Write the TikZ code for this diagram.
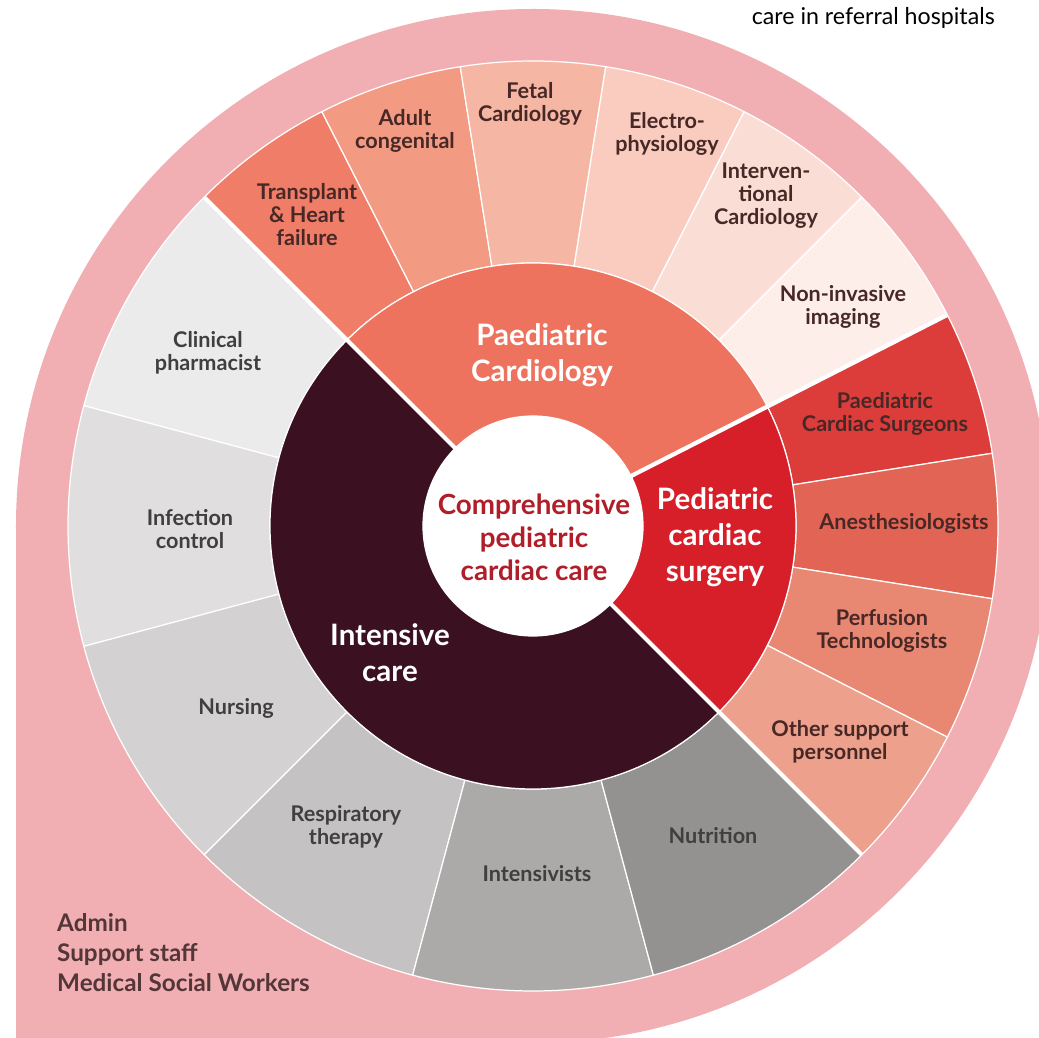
\documentclass[tikz,border=0pt]{standalone}
\usepackage{fontspec}
\setmainfont{Lato}
\usetikzlibrary{positioning}

\definecolor{ringpink}{HTML}{F2AFB3}
\definecolor{cardio}{HTML}{EE735E}
\definecolor{surgery}{HTML}{D71F2A}
\definecolor{icu}{HTML}{3B1021}
\definecolor{hubred}{HTML}{B01E2A}
\definecolor{transplant}{HTML}{EF7D67}
\definecolor{adultcong}{HTML}{F29A82}
\definecolor{fetal}{HTML}{F6B6A4}
\definecolor{electro}{HTML}{F9CCBF}
\definecolor{interv}{HTML}{FADED5}
\definecolor{noninv}{HTML}{FDEEEA}
\definecolor{surgeons}{HTML}{DC3D3A}
\definecolor{anesth}{HTML}{E16454}
\definecolor{perfusion}{HTML}{E98872}
\definecolor{othersup}{HTML}{EDA08C}
\definecolor{pharm}{HTML}{EBEBEB}
\definecolor{infect}{HTML}{E0DEDF}
\definecolor{nursing}{HTML}{D3D1D2}
\definecolor{resp}{HTML}{C4C2C3}
\definecolor{intens}{HTML}{ABAAA9}
\definecolor{nutri}{HTML}{939291}
\definecolor{lblbrown}{HTML}{472826}
\definecolor{lblgray}{HTML}{3F3F3F}
\definecolor{admintxt}{HTML}{533638}

% ring sector: inner radius, outer radius, start, end, colour
\newcommand{\sector}[5]{%
  \fill[fill=#5, draw=white, line width=0.7pt] (#3:#1) arc[start angle=#3, end angle=#4, radius=#1]
    -- (#4:#2) arc[start angle=#4, end angle=#3, radius=#2] -- cycle;}

\begin{document}
\begin{tikzpicture}[
    outlbl/.style={align=center, font=\fontsize{12.3}{13.1}\selectfont\bfseries},
    midlbl/.style={align=center, text=white, font=\fontsize{16.8}{20.5}\selectfont\bfseries},
    gap/.style={white, line width=2.4pt}]
  \useasboundingbox (-10.66,-10.24) rectangle (10.12,10.52);
  \clip (-10.66,-10.24) rectangle (10.12,10.52);

  % pink backdrop
  \fill[ringpink] (0,0) circle (10.34);
  \fill[ringpink] (-10.34,0) rectangle (0,-10.6);

  % outer ring
  \foreach \a/\b/\c in {117/135/transplant, 99/117/adultcong, 81/99/fetal, 63/81/electro,
      45/63/interv, 27/45/noninv, 9/27/surgeons, -9/9/anesth, -27/-9/perfusion,
      -45/-27/othersup, 135/165/pharm, 165/195/infect, 195/225/nursing,
      225/255/resp, 255/285/intens, 285/315/nutri}
    {\sector{5.26}{9.3}{\a}{\b}{\c}}

  % middle ring
  \sector{2.2}{5.26}{27}{135}{cardio}
  \sector{2.2}{5.26}{-45}{27}{surgery}
  \sector{2.2}{5.26}{135}{315}{icu}

  % main dividers
  \draw[gap] (135:2.2) -- (135:9.3);
  \draw[gap] (27:2.2) -- (27:9.3);
  \draw[gap] (-45:2.2) -- (-45:9.3);

  % hub
  \fill[white] (0,0) circle (2.2);
  \node[align=center, text=hubred, font=\fontsize{15.8}{18.8}\selectfont\bfseries] (hub) at (0.02,-0.22)
    {Comprehensive\\ pediatric\\ cardiac care};

  % middle labels
  \node[midlbl] (cardiology) at (0.18,3.42) {Paediatric\\ Cardiology};
  \node[midlbl] (surgerylbl) at (3.64,-0.22) {Pediatric\\ cardiac\\ surgery};
  \node[midlbl] (icucare) at (-2.86,-2.54) {Intensive\\ care};

  % cardiology team
  \node[outlbl, text=lblbrown] (transplantlbl) at (-4.52,6.22) {Transplant\\ \& Heart\\ failure};
  \node[outlbl, text=lblbrown] (adultlbl) at (-2.56,7.90) {Adult\\ congenital};
  \node[outlbl, text=lblbrown] (fetallbl) at (-0.06,8.44) {Fetal\\ Cardiology};
  \node[outlbl, text=lblbrown] (electrolbl) at (2.68,7.84) {Electro-\\ physiology};
  \node[outlbl, text=lblbrown] (intervlbl) at (4.66,6.60) {Interven-\\ tional\\ Cardiology};
  \node[outlbl, text=lblbrown] (noninvlbl) at (6.20,4.38) {Non-invasive\\ imaging};

  % surgery team
  \node[outlbl, text=lblbrown] (surgeonslbl) at (7.04,2.24) {Paediatric\\ Cardiac Surgeons};
  \node[outlbl, text=lblbrown] (anesthlbl) at (7.42,0.06) {Anesthesiologists};
  \node[outlbl, text=lblbrown] (perfusionlbl) at (6.98,-2.10) {Perfusion\\ Technologists};
  \node[outlbl, text=lblbrown] (otherlbl) at (6.14,-4.32) {Other support\\ personnel};

  % intensive care team
  \node[outlbl, text=lblgray] (nutrilbl) at (3.60,-6.20) {Nutrition};
  \node[outlbl, text=lblgray] (intenslbl) at (0.08,-6.96) {Intensivists};
  \node[outlbl, text=lblgray] (resplbl) at (-3.74,-6.02) {Respiratory\\ therapy};
  \node[outlbl, text=lblgray] (nursinglbl) at (-5.94,-3.64) {Nursing};
  \node[outlbl, text=lblgray] (infectlbl) at (-6.86,-0.06) {Infection\\ control};
  \node[outlbl, text=lblgray] (pharmlbl) at (-6.50,3.46) {Clinical\\ pharmacist};

  % corner texts
  \node[anchor=west, align=left, text=admintxt, font=\fontsize{13.8}{17.1}\selectfont\bfseries] (admin) at (-9.64,-8.54)
    {Admin\\ Support staff\\ Medical Social Workers};
  \node[anchor=east, font=\fontsize{13.2}{14}\selectfont] (referral) at (9.36,10.16) {care in referral hospitals};
\end{tikzpicture}
\end{document}
